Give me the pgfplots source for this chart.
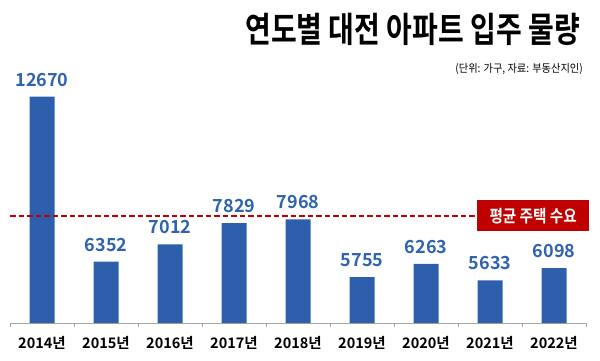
\documentclass[border=0pt]{standalone}
\usepackage{pgfplots}
\pgfplotsset{compat=1.18}
\usepackage{fontspec}
\setmainfont{Noto Sans CJK KR}[BoldFont={Noto Sans CJK KR Bold}]
\definecolor{barblue}{HTML}{2E5FAD}
\definecolor{lblblue}{HTML}{2F63B2}
\definecolor{avgred}{HTML}{C00000}
\begin{document}
\begin{tikzpicture}
\path[use as bounding box] (0,0) rectangle (600pt,360pt);
\begin{axis}[
  at={(10pt,37pt)}, anchor=south west,
  scale only axis, width=576pt, height=287.1pt,
  xmin=-0.5, xmax=8.5, ymin=4000, ymax=15000,
  clip=false,
  axis y line=none, axis x line*=bottom,
  x axis line style={color=black!35, line width=0.8pt},
  xtick={0,...,8},
  xticklabels={2014년,2015년,2016년,2017년,2018년,2019년,2020년,2021년,2022년},
  major tick length=0pt,
  minor xtick={-0.5,0.5,...,8.5},
  minor tick length=4pt, tick align=outside,
  minor tick style={color=black!35, line width=0.8pt},
  xticklabel style={font=\bfseries\fontsize{14.5}{14.5}\selectfont, inner sep=0pt, anchor=north, yshift=-13pt},
]
\addplot[ybar, bar width=25pt, bar shift=0pt, fill=barblue, draw=none,
  point meta=explicit symbolic,
  nodes near coords={\pgfplotspointmeta},
  nodes near coords style={font=\bfseries\fontsize{18}{18}\selectfont, text=lblblue, anchor=south, inner sep=0pt, yshift=10pt}]
coordinates {
(0,12670) [12670]
(1,6352) [6352]
(2,7012) [7012]
(3,7829) [7829]
(4,7968) [7968]
(5,5755) [5755]
(6,6263) [6263]
(7,5633) [5633]
(8,6098) [6098]
};
\addplot[sharp plot, no markers, avgred, line width=1.8pt, dash pattern=on 5.5pt off 3pt, forget plot]
coordinates {(-0.5,8100) (6.797,8100)};
\node[fill=avgred, text=white, minimum width=112pt, minimum height=31pt, inner sep=0pt, anchor=west,
  font=\bfseries\fontsize{17}{17}\selectfont] at (axis cs:6.797,8100) {\scalebox{0.86}[1]{평균 주택 수요}};
\end{axis}
\node[anchor=north east, inner sep=0pt] at (580pt,347pt)
  {\scalebox{0.8}[1]{\fontsize{35}{35}\selectfont\bfseries 연도별 대전 아파트 입주 물량}};
\node[anchor=north east, inner sep=0pt] at (583pt,297pt)
  {\scalebox{0.93}[1]{\fontsize{11}{11}\selectfont (단위: 가구, 자료: 부동산지인)}};
\end{tikzpicture}
\end{document}
